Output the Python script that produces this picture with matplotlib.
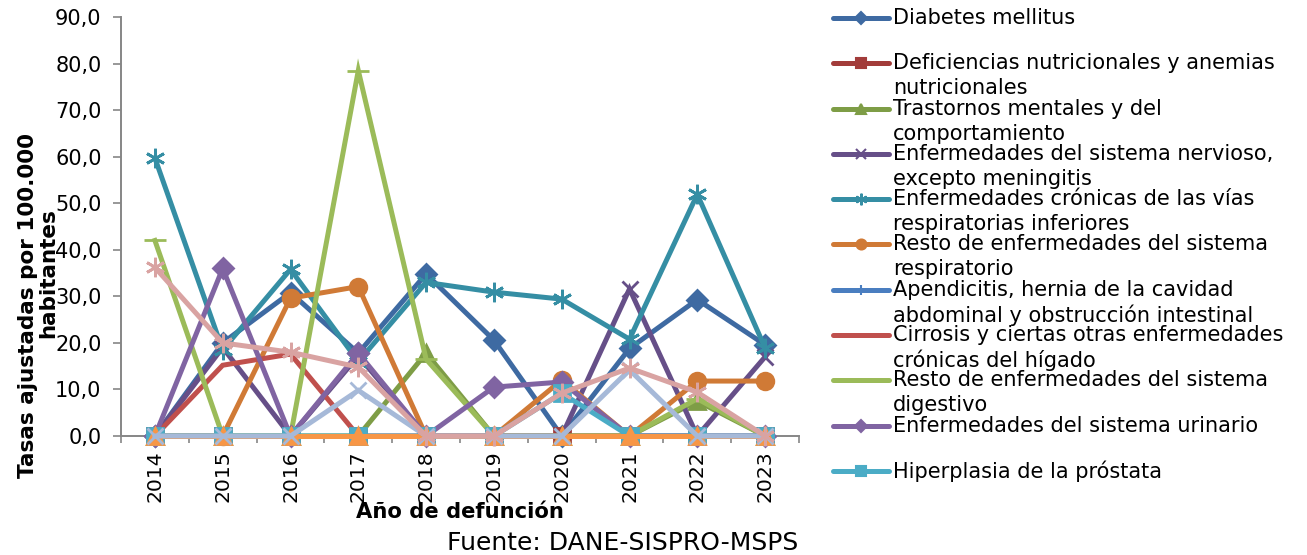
import matplotlib
matplotlib.use("Agg")
import matplotlib.pyplot as plt
from matplotlib.lines import Line2D

years = ["2014", "2015", "2016", "2017", "2018", "2019", "2020", "2021", "2022", "2023"]

diabetes       = [0, 20.0, 30.8, 17.8, 34.8, 20.6, 0, 18.8, 29.3, 19.6]
deficiencias   = [0, 0, 0, 0, 0, 0, 0, 0, 0, 0]
trastornos     = [0, 0, 0, 0, 17.8, 0, 0, 0, 7.5, 0]
nervioso       = [0, 19.0, 0, 17.2, 0, 0, 0, 31.6, 0, 17.0]
cronicas       = [59.7, 18.5, 35.8, 16.0, 33.0, 30.9, 29.4, 20.8, 51.9, 18.9]
resto_resp     = [0, 0, 29.6, 32.1, 0, 0, 12.0, 0, 11.8, 11.8]
apendicitis    = [0, 0, 0, 0, 0, 0, 0, 0, 0, 0]
cirrosis       = [0, 15.2, 17.6, 0, 0, 0, 0, 0, 0, 0]
resto_dig      = [42.0, 0, 0, 78.5, 16.5, 0, 0, 0, 8.0, 0]
urinario       = [0, 36.0, 0, 17.8, 0, 10.5, 11.6, 0, 0, 0]
prostata       = [0, 0, 0, 0, 0, 0, 9.2, 0, 0, 0]
serie12        = [0, 0, 0, 0, 0, 0, 0, 0, 0, 0]
serie13        = [0, 0, 0, 9.8, 0, 0, 0, 14.2, 0, 0]
serie14        = [36.2, 20.0, 18.0, 14.8, 0, 0, 9.2, 14.6, 9.4, 0]

labels = [
    ["Diabetes mellitus"],
    ["Deficiencias nutricionales y anemias", "nutricionales"],
    ["Trastornos mentales y del", "comportamiento"],
    ["Enfermedades del sistema nervioso,", "excepto meningitis"],
    ["Enfermedades crónicas de las vías", "respiratorias inferiores"],
    ["Resto de enfermedades del sistema", "respiratorio"],
    ["Apendicitis, hernia de la cavidad", "abdominal y obstrucción intestinal"],
    ["Cirrosis y ciertas otras enfermedades", "crónicas del hígado"],
    ["Resto de enfermedades del sistema", "digestivo"],
    ["Enfermedades del sistema urinario"],
    ["Hiperplasia de la próstata"],
]

series = [diabetes, deficiencias, trastornos, nervioso, cronicas, resto_resp,
          apendicitis, cirrosis, resto_dig, urinario, prostata, serie12, serie13, serie14]
colors = ["#3E6AA2", "#A23C3A", "#7E9D46", "#664F88", "#358EA4", "#D07A36",
          "#4A7EC0", "#C0504D", "#9BBB59", "#8064A2", "#4BACC6", "#F79646",
          "#A6B9D8", "#D9A3A2"]
markers = ["D", "s", "^", "x", (6, 2, 0), "o", "+", "None", "_", "D", "s", "^", "x", (6, 2, 0)]
msizes = [10, 11, 11, 11, 14, 12, 11, 0, 16, 10, 12, 12, 11, 14]

W, H = 1307, 555
fig = plt.figure(figsize=(W / 100, H / 100), dpi=100)
ax = fig.add_axes([121 / W, 1 - 436 / H, (799 - 121) / W, (436 - 17) / H])

x = list(range(len(years)))
for i, (s, c, m, ms) in enumerate(zip(series, colors, markers, msizes)):
    ax.plot(x, s, color=c, lw=3.6, marker=m, markersize=ms, markeredgewidth=2.0,
            markeredgecolor=c, markerfacecolor=c, zorder=2 + i, clip_on=False,
            solid_joinstyle="miter")

ax.set_xlim(-0.5, 9.5)
ax.set_ylim(0, 90)
ax.set_yticks(range(0, 91, 10))
ax.set_yticklabels([f"{v},0" for v in range(0, 91, 10)], fontsize=15)
ax.set_xticks(x)
ax.set_xticklabels(years, rotation=90, fontsize=14.7)
ax.set_xticks([k - 0.5 for k in range(11)], minor=True)
ax.tick_params(axis="x", which="major", length=0, pad=10)
ax.tick_params(axis="x", which="minor", length=5, color="#868686", width=1.2, direction="out")
ax.tick_params(axis="y", length=6, color="#868686", width=1.2, pad=8)
for sp in ["top", "right"]:
    ax.spines[sp].set_visible(False)
for sp in ["left", "bottom"]:
    ax.spines[sp].set_color("#868686")
    ax.spines[sp].set_linewidth(1.4)
ax.spines["bottom"].set_zorder(1)

# axis titles
fig.text(28 / W, 1 - 305 / H, "Tasas ajustadas por 100.000", rotation=90, fontsize=15.5,
         fontweight="bold", ha="center", va="center")
fig.text(48 / W, 1 - 273 / H, "habitantes", rotation=90, fontsize=15.5,
         fontweight="bold", ha="center", va="center")
fig.text(460 / W, 1 - 512 / H, "Año de defunción", fontsize=15.2, fontweight="bold",
         ha="center", va="center")
fig.text(623 / W, 1 - 543 / H, "Fuente: DANE-SISPRO-MSPS", fontsize=18,
         ha="center", va="center")

# legend
for i, lab in enumerate(labels):
    yc = 18 + 45.3 * i
    ln = Line2D([833 / W, 889 / W], [1 - yc / H, 1 - yc / H], transform=fig.transFigure,
                color=colors[i], lw=3.6, solid_capstyle="round")
    fig.add_artist(ln)
    if markers[i] != "None" and markers[i] != "_":
        mk = Line2D([861 / W], [1 - yc / H], transform=fig.transFigure, color=colors[i],
                    marker=markers[i], markersize=msizes[i] * 0.6, markeredgewidth=1.5,
                    markeredgecolor=colors[i], markerfacecolor=colors[i], lw=0)
        fig.add_artist(mk)
    for j, t in enumerate(lab):
        fig.text(893 / W, 1 - (yc + 25 * j) / H, t, fontsize=15, ha="left", va="center")

fig.savefig("out.png", dpi=100)
